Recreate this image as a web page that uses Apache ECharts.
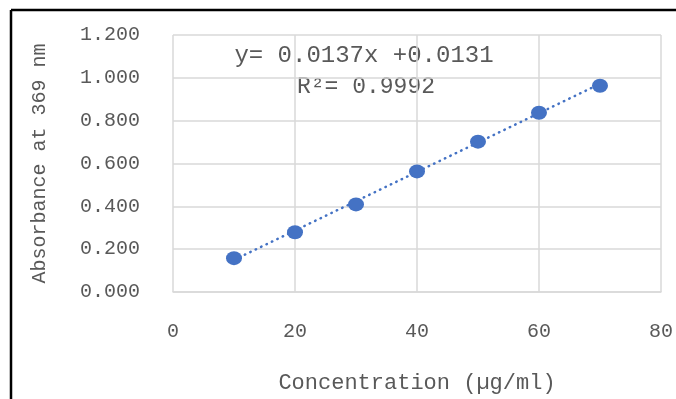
<!DOCTYPE html>
<html><head><meta charset="utf-8">
<script src="https://cdn.jsdelivr.net/npm/echarts@6/dist/echarts.min.js"></script>
<style>html,body{margin:0;padding:0;background:#fff}#c{width:676px;height:399px}</style>
</head><body><div id="c"></div>
<script>
var concentration = [10, 20, 30, 40, 50, 60, 70];
var absorbance = [0.158, 0.279, 0.409, 0.563, 0.702, 0.837, 0.963];
var trendX = [10, 70];
var trendY = [0.150, 0.972];
var equationText = 'y= 0.0137x +0.0131';
var r2Text = 'R\u00b2= 0.9992';
var xTitle = 'Concentration (\u00b5g/ml)';
var yTitle = 'Absorbance at 369 nm';
var FONT = 'Liberation Mono';
var chart = echarts.init(document.getElementById('c'), null, {renderer:'canvas'});
chart.setOption({
  animation:false,
  backgroundColor:'#fff',
  grid:{left:173,right:14,top:35,bottom:106},
  xAxis:{type:'value',min:0,max:80,interval:20,
    axisLine:{show:true,lineStyle:{color:'#d9d9d9',width:1.5}},axisTick:{show:false},
    splitLine:{show:true,lineStyle:{color:'#d9d9d9',width:1.5}},
    axisLabel:{color:'#595959',fontFamily:FONT,fontSize:20,margin:30},
    name:xTitle,nameLocation:'middle',nameGap:80,
    nameTextStyle:{color:'#595959',fontFamily:FONT,fontSize:22}},
  yAxis:{type:'value',min:0,max:1.2,interval:0.2,
    axisLine:{show:false},axisTick:{show:false},
    splitLine:{show:true,lineStyle:{color:'#d9d9d9',width:1.5}},
    axisLabel:{color:'#595959',fontFamily:FONT,fontSize:20,margin:33,formatter:function(v){return v.toFixed(3);}},
    name:yTitle,nameLocation:'middle',nameGap:123,
    nameTextStyle:{color:'#595959',fontFamily:FONT,fontSize:20}},
  series:[
    {type:'line',data:trendX.map(function(x,i){return [x,trendY[i]];}),showSymbol:false,symbol:'none',
     lineStyle:{color:'#4472c4',width:2.5,type:[0.5,5.5],cap:'round'},z:2},
    {type:'scatter',data:concentration.map(function(x,i){return [x,absorbance[i]];}),
     symbol:'circle',symbolSize:[16,14],itemStyle:{color:'#4472c4',opacity:1},z:3}
  ],
  graphic:[
    {type:'text',style:{text:equationText,x:364,y:56,align:'center',verticalAlign:'middle',fill:'#595959',font:'24px "Liberation Mono"'}},
    {type:'text',style:{text:r2Text,x:366,y:87,align:'center',verticalAlign:'middle',fill:'#595959',font:'23px "Liberation Mono"'}},
    {type:'line',shape:{x1:11,y1:10,x2:676,y2:10},style:{stroke:'#000',lineWidth:2.5}},
    {type:'line',shape:{x1:11,y1:10,x2:11,y2:399},style:{stroke:'#000',lineWidth:2.5}}
  ]
});
</script></body></html>
